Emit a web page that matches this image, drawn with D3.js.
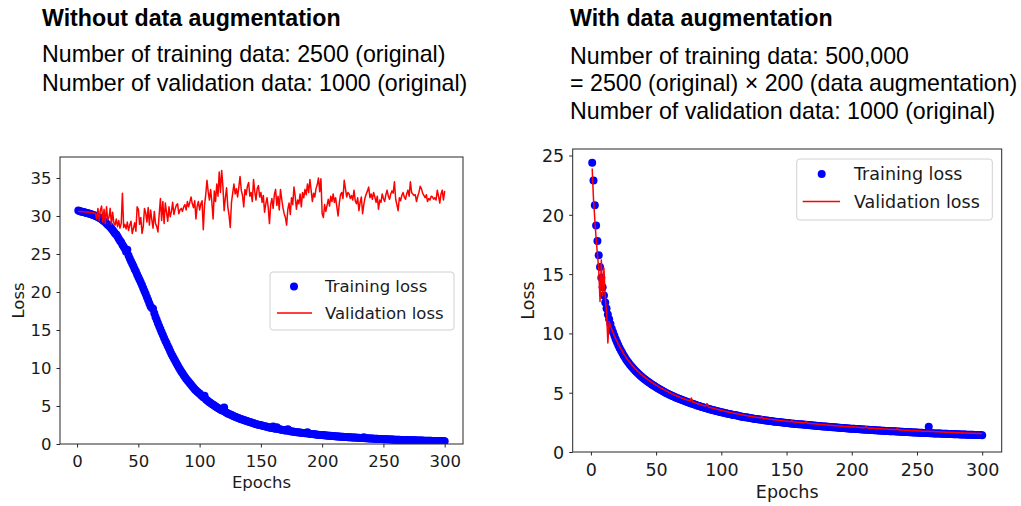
<!DOCTYPE html>
<html>
<head>
<meta charset="utf-8">
<script src="https://cdn.jsdelivr.net/npm/d3@7"></script>
<style>
  html, body { margin: 0; padding: 0; background: #fff; }
  svg { display: block; }
</style>
</head>
<body>
<svg id="chart" width="1021" height="506"></svg>
<script>
// Epoch index shared by both runs
const epochs = d3.range(1, 301);

// Run without data augmentation
const trainNoAug = [
  30.72, 30.65, 30.60, 30.56, 30.52, 30.48, 30.44, 30.40, 30.35, 30.30,
  30.25, 30.20, 30.14, 30.08, 30.00, 29.92, 29.85, 29.78, 29.70, 29.58,
  29.45, 29.30, 29.20, 29.00, 28.85, 28.70, 28.55, 28.35, 28.15, 27.92,
  27.70, 27.55, 27.30, 27.00, 26.75, 26.55, 26.20, 25.95, 25.70, 25.30,
  25.55, 24.80, 24.40, 24.05, 23.70, 23.40, 23.00, 22.70, 22.30, 21.95,
  21.60, 21.25, 20.90, 20.50, 20.10, 19.75, 19.30, 18.90, 18.50, 18.10,
  17.90, 17.80, 17.20, 16.70, 16.30, 15.90, 15.50, 15.10, 14.70, 14.35,
  13.95, 13.60, 13.25, 12.90, 12.55, 12.20, 11.85, 11.55, 11.25, 10.95,
  10.65, 10.35, 10.05, 9.80, 9.55, 9.30, 9.05, 8.80, 8.60, 8.40,
  8.20, 8.00, 7.80, 7.60, 7.40, 7.20, 7.05, 6.90, 6.75, 6.65,
  6.45, 6.30, 6.15, 6.35, 5.90, 5.75, 5.62, 5.50, 5.38, 5.26,
  5.15, 5.05, 4.95, 4.85, 4.75, 4.65, 4.55, 4.45, 4.38, 4.80,
  4.20, 4.10, 4.02, 3.95, 3.88, 3.80, 3.72, 3.65, 3.58, 3.52,
  3.45, 3.40, 3.33, 3.27, 3.21, 3.15, 3.10, 3.05, 2.98, 2.93,
  2.88, 2.83, 2.78, 2.73, 2.68, 2.63, 2.58, 2.54, 2.50, 2.46,
  2.42, 2.38, 2.34, 2.30, 2.26, 2.22, 2.18, 2.15, 2.12, 2.30,
  2.05, 2.02, 2.20, 1.96, 1.93, 1.90, 1.87, 1.84, 1.81, 1.78,
  1.76, 1.95, 1.71, 1.68, 1.66, 1.63, 1.61, 1.59, 1.56, 1.54,
  1.52, 1.50, 1.48, 1.46, 1.44, 1.42, 1.40, 1.55, 1.36, 1.34,
  1.32, 1.30, 1.28, 1.27, 1.25, 1.23, 1.22, 1.20, 1.18, 1.17,
  1.15, 1.14, 1.12, 1.11, 1.09, 1.08, 1.07, 1.05, 1.04, 1.03,
  1.01, 1.00, 0.99, 0.98, 0.96, 0.95, 0.94, 0.93, 0.92, 0.91,
  0.90, 0.89, 0.88, 0.87, 0.86, 0.85, 0.84, 0.83, 0.82, 0.81,
  0.80, 0.79, 0.78, 0.90, 0.77, 0.76, 0.75, 0.74, 0.73, 0.72,
  0.71, 0.70, 0.70, 0.69, 0.68, 0.67, 0.66, 0.66, 0.65, 0.64,
  0.63, 0.62, 0.62, 0.61, 0.60, 0.59, 0.59, 0.58, 0.57, 0.57,
  0.56, 0.55, 0.55, 0.54, 0.54, 0.53, 0.52, 0.52, 0.51, 0.51,
  0.50, 0.50, 0.49, 0.49, 0.48, 0.48, 0.47, 0.47, 0.46, 0.46,
  0.45, 0.45, 0.44, 0.44, 0.43, 0.43, 0.42, 0.42, 0.42, 0.41,
  0.41, 0.40, 0.40, 0.40, 0.39, 0.39, 0.38, 0.38, 0.38, 0.37
];
const valNoAug = [
  30.62, 30.60, 30.59, 30.58, 30.56, 30.55, 30.54, 30.52, 30.50, 30.49,
  30.47, 30.45, 30.44, 30.40, 30.30, 29.60, 31.00, 29.40, 30.80, 31.30,
  29.20, 30.90, 29.00, 31.20, 29.50, 29.80, 31.00, 28.90, 30.50, 29.10,
  28.80, 29.60, 28.60, 29.40, 28.40, 29.00, 33.00, 28.50, 28.90, 28.30,
  29.20, 28.10, 28.80, 29.30, 27.70, 28.40, 29.10, 28.00, 31.20, 30.90,
  28.90, 29.80, 27.70, 28.60, 31.00, 30.40, 29.20, 31.10, 28.80, 30.80,
  29.50, 28.40, 30.60, 29.00, 28.60, 27.90, 30.20, 32.30, 29.40, 31.90,
  29.00, 31.70, 30.50, 29.30, 31.20, 29.90, 30.60, 31.80, 30.20, 30.90,
  31.40, 31.60, 30.30, 30.80, 31.00, 30.60, 31.20, 31.50, 30.80, 31.90,
  31.20, 31.80, 32.50, 31.60, 31.10, 32.00, 29.60, 31.30, 31.90, 30.80,
  31.60, 32.00, 28.20, 31.40, 32.80, 34.70, 33.20, 32.10, 33.50, 31.80,
  29.60, 33.30, 31.90, 34.20, 32.60, 35.80, 33.10, 36.00, 33.90, 30.70,
  32.40, 33.70, 31.20, 30.10, 28.50, 31.80, 33.00, 34.20, 32.90, 33.60,
  32.50, 33.80, 35.20, 33.40, 32.70, 31.20, 33.50, 32.80, 33.90, 34.40,
  32.60, 33.10, 31.90, 34.80, 33.20, 32.10, 33.60, 34.00, 32.50, 33.10,
  31.80, 32.70, 30.50, 31.60, 32.40, 31.10, 29.00, 31.50, 32.30, 31.00,
  32.80, 33.50, 31.40, 32.60, 30.80, 33.50, 32.20, 31.10, 30.30, 29.80,
  28.80, 30.90, 31.70, 30.20, 32.40, 31.50, 33.80, 32.60, 30.90, 32.10,
  31.60, 32.90, 31.20, 33.10, 32.40, 33.50, 32.80, 34.20, 33.10, 34.80,
  33.40, 31.90, 33.00, 32.50, 33.60, 34.10, 35.00, 33.20, 34.90, 30.30,
  29.80, 31.50, 30.60, 31.40, 32.20, 31.30, 32.60, 31.90, 32.90, 31.80,
  32.40, 31.20, 30.00, 31.70, 32.80, 33.10, 32.30, 34.70, 33.60, 32.50,
  33.10, 32.90, 32.30, 32.70, 32.10, 33.40, 32.00, 31.60, 32.40, 30.70,
  31.80, 32.50, 30.30, 31.50, 32.40, 32.90, 33.30, 33.80, 32.40, 32.90,
  32.20, 33.10, 32.50, 31.80, 32.60, 30.90, 32.10, 31.80, 32.90, 32.30,
  31.90, 32.80, 33.40, 32.60, 32.20, 32.90, 33.30, 33.00, 34.50, 32.20,
  31.50, 30.70, 32.40, 32.00, 32.70, 33.10, 32.50, 32.20, 32.90, 33.40,
  32.60, 34.50, 33.10, 32.90, 32.70, 32.80, 31.90, 32.60, 33.10, 33.90,
  33.60, 33.00, 32.70, 32.40, 32.80, 31.90, 32.30, 32.10, 32.60, 32.50,
  32.20, 32.40, 32.10, 33.40, 32.60, 31.70, 32.90, 33.40, 32.10, 33.30
];

// Run with data augmentation
const trainAug = [
  24.40, 22.90, 20.80, 19.10, 17.80, 16.60, 15.60, 14.70, 13.90, 13.20,
  12.60, 12.10, 11.60, 11.20, 10.80, 10.40, 10.10, 9.80, 9.50, 9.25,
  9.00, 8.78, 8.56, 8.36, 8.16, 7.98, 7.81, 7.65, 7.50, 7.36,
  7.23, 7.10, 6.98, 6.86, 6.75, 6.64, 6.54, 6.44, 6.34, 6.25,
  6.16, 6.07, 5.99, 5.91, 5.83, 5.75, 5.68, 5.61, 5.54, 5.47,
  5.40, 5.33, 5.26, 5.20, 5.14, 5.08, 5.02, 4.96, 4.91, 4.85,
  4.80, 4.75, 4.70, 4.65, 4.60, 4.56, 4.51, 4.47, 4.43, 4.38,
  4.34, 4.30, 4.26, 4.22, 4.18, 4.14, 4.10, 4.06, 4.02, 3.98,
  3.94, 3.91, 3.87, 3.84, 3.80, 3.77, 3.74, 3.70, 3.67, 3.64,
  3.61, 3.58, 3.55, 3.52, 3.49, 3.46, 3.44, 3.41, 3.38, 3.35,
  3.33, 3.30, 3.28, 3.25, 3.23, 3.20, 3.18, 3.16, 3.13, 3.11,
  3.09, 3.07, 3.05, 3.02, 3.00, 2.98, 2.96, 2.94, 2.92, 2.90,
  2.88, 2.87, 2.85, 2.83, 2.81, 2.79, 2.78, 2.76, 2.74, 2.73,
  2.71, 2.70, 2.68, 2.66, 2.65, 2.63, 2.62, 2.61, 2.59, 2.58,
  2.56, 2.55, 2.54, 2.52, 2.51, 2.50, 2.48, 2.47, 2.46, 2.45,
  2.44, 2.42, 2.41, 2.40, 2.39, 2.38, 2.37, 2.36, 2.35, 2.34,
  2.33, 2.32, 2.31, 2.30, 2.29, 2.28, 2.27, 2.26, 2.25, 2.24,
  2.23, 2.22, 2.21, 2.20, 2.19, 2.18, 2.17, 2.16, 2.15, 2.14,
  2.13, 2.12, 2.11, 2.10, 2.09, 2.08, 2.08, 2.07, 2.06, 2.05,
  2.04, 2.03, 2.02, 2.02, 2.01, 2.00, 1.99, 1.98, 1.97, 1.96,
  1.96, 1.95, 1.94, 1.93, 1.93, 1.92, 1.91, 1.90, 1.90, 1.89,
  1.88, 1.88, 1.87, 1.86, 1.85, 1.85, 1.84, 1.83, 1.83, 1.82,
  1.81, 1.81, 1.80, 1.79, 1.79, 1.78, 1.77, 1.77, 1.76, 1.76,
  1.75, 1.74, 1.74, 1.73, 1.72, 1.72, 1.71, 1.71, 1.70, 1.69,
  1.69, 1.68, 1.68, 1.67, 1.67, 1.66, 1.65, 1.65, 1.64, 1.64,
  1.63, 1.63, 1.62, 1.62, 1.61, 1.61, 1.60, 1.60, 2.12, 1.59,
  1.58, 1.58, 1.57, 1.57, 1.56, 1.56, 1.55, 1.55, 1.54, 1.54,
  1.53, 1.53, 1.53, 1.52, 1.52, 1.51, 1.51, 1.50, 1.50, 1.50,
  1.49, 1.49, 1.48, 1.48, 1.48, 1.47, 1.47, 1.46, 1.46, 1.46,
  1.45, 1.45, 1.45, 1.44, 1.44, 1.44, 1.43, 1.43, 1.43, 1.42
];
const valAug = [
  23.90, 21.30, 19.60, 18.00, 16.70, 15.40, 12.70, 16.20, 13.20, 15.50,
  13.00, 11.80, 9.20, 11.00, 10.60, 10.35, 10.05, 9.80, 9.55, 9.35,
  9.10, 8.92, 8.70, 8.52, 8.30, 8.15, 7.98, 7.80, 7.68, 7.52,
  7.40, 7.25, 7.16, 7.00, 6.93, 6.78, 6.72, 6.58, 6.52, 6.40,
  6.35, 6.22, 6.18, 6.06, 6.02, 5.90, 5.87, 5.76, 5.73, 5.62,
  5.60, 5.49, 5.45, 5.36, 5.34, 5.24, 5.22, 5.12, 5.10, 5.01,
  4.99, 4.90, 4.90, 4.80, 4.79, 4.71, 4.70, 4.62, 4.60, 4.53,
  4.52, 4.44, 4.43, 4.37, 4.36, 4.29, 4.55, 4.22, 4.20, 4.14,
  4.12, 4.06, 4.05, 3.99, 3.98, 3.92, 3.91, 3.86, 4.08, 3.80,
  3.78, 3.73, 3.72, 3.67, 3.66, 3.61, 3.60, 3.56, 3.54, 3.50,
  3.49, 3.45, 3.44, 3.40, 3.39, 3.35, 3.34, 3.31, 3.29, 3.26,
  3.25, 3.22, 3.21, 3.17, 3.16, 3.13, 3.12, 3.09, 3.08, 3.05,
  3.04, 3.02, 3.01, 2.98, 2.97, 2.94, 2.93, 2.91, 2.90, 2.87,
  2.98, 2.85, 2.83, 2.81, 2.80, 2.78, 2.77, 2.75, 2.74, 2.72,
  2.71, 2.70, 2.69, 2.67, 2.66, 2.64, 2.64, 2.62, 2.61, 2.59,
  2.59, 2.57, 2.56, 2.66, 2.54, 2.53, 2.52, 2.50, 2.50, 2.48,
  2.48, 2.46, 2.46, 2.44, 2.56, 2.42, 2.42, 2.40, 2.40, 2.38,
  2.38, 2.36, 2.36, 2.34, 2.34, 2.32, 2.32, 2.30, 2.30, 2.28,
  2.28, 2.26, 2.27, 2.24, 2.25, 2.22, 2.23, 2.21, 2.21, 2.19,
  2.20, 2.17, 2.18, 2.16, 2.16, 2.14, 2.15, 2.13, 2.13, 2.11,
  2.12, 2.10, 2.10, 2.08, 2.09, 2.07, 2.07, 2.05, 2.06, 2.04,
  2.14, 2.03, 2.03, 2.01, 2.02, 2.00, 2.00, 1.98, 1.99, 1.97,
  1.97, 1.96, 1.96, 1.94, 1.95, 1.93, 1.93, 1.92, 1.92, 1.90,
  1.91, 1.89, 1.89, 1.88, 1.99, 1.86, 1.87, 1.85, 1.85, 1.84,
  1.84, 1.83, 1.83, 1.81, 1.82, 1.80, 1.81, 1.79, 1.80, 1.78,
  1.79, 1.77, 1.77, 1.76, 1.76, 1.75, 1.75, 1.74, 1.74, 1.73,
  1.73, 1.72, 1.72, 1.71, 1.71, 1.70, 1.70, 1.69, 1.69, 1.68,
  1.68, 1.67, 1.67, 1.66, 1.66, 1.65, 1.66, 1.64, 1.65, 1.63,
  1.64, 1.62, 1.63, 1.61, 1.62, 1.60, 1.61, 1.60, 1.60, 1.59,
  1.60, 1.58, 1.59, 1.58, 1.58, 1.57, 1.58, 1.56, 1.57, 1.56
];

// Axis ticks
const xTicks = [0, 50, 100, 150, 200, 250, 300];
const yTicksNoAug = [0, 5, 10, 15, 20, 25, 30, 35];
const yTicksAug = [0, 5, 10, 15, 20, 25];

// Header text for each panel
const headerNoAug = {
  title: "Without data augmentation",
  lines: ["Number of training data: 2500 (original)",
          "Number of validation data: 1000 (original)"]
};
const headerAug = {
  title: "With data augmentation",
  lines: ["Number of training data: 500,000",
          "= 2500 (original) \u00d7 200 (data augmentation)",
          "Number of validation data: 1000 (original)"]
};
const legendLabels = ["Training loss", "Validation loss"];

const svg = d3.select("#chart");
const TEXT = "#1a1a1a";
const SPINE = "#262626";

function drawHeader(h, x, titleY, lineYs) {
  const g = svg.append("g").attr("font-family", "'Liberation Sans', Arial, sans-serif").attr("fill", "#000");
  g.append("text").attr("x", x).attr("y", titleY)
    .attr("font-size", 23.2).attr("font-weight", "bold").text(h.title);
  h.lines.forEach((t, i) => {
    g.append("text").attr("x", x).attr("y", lineYs[i])
      .attr("font-size", 23.2).text(t);
  });
}

function drawPanel(cfg) {
  const { left, right, top, bottom, yMax, yTicks, train, val, fs, legend, ylabelX, xlabelY, xtickY, r } = cfg;
  const x = d3.scaleLinear().domain([-13.95, 314.95]).range([left, right]);
  const y = d3.scaleLinear().domain([0, yMax]).range([bottom, top]);
  const g = svg.append("g").attr("font-family", "'DejaVu Sans', sans-serif");

  // training loss: blue markers
  const clipId = "clip" + Math.round(left);
  svg.append("clipPath").attr("id", clipId).append("rect")
    .attr("x", left).attr("y", top).attr("width", right - left).attr("height", bottom - top);
  const plot = g.append("g").attr("clip-path", `url(#${clipId})`);
  plot.selectAll("circle.train").data(epochs).join("circle")
    .attr("class", "train")
    .attr("cx", (e) => x(e))
    .attr("cy", (e, i) => y(train[i]))
    .attr("r", r)
    .attr("fill", "#0000ff");

  // validation loss: red line
  const line = d3.line().x((e) => x(e)).y((e, i) => y(val[i]));
  plot.append("path").datum(epochs)
    .attr("d", line)
    .attr("fill", "none")
    .attr("stroke", "#ff0000")
    .attr("stroke-width", 1.5)
    .attr("stroke-linejoin", "round");

  // axes
  const xAxis = d3.axisBottom(x).tickValues(xTicks).tickSize(3.5).tickPadding(4);
  const yAxis = d3.axisLeft(y).tickValues(yTicks).tickSize(3.5).tickPadding(5);
  const gx = g.append("g").attr("transform", `translate(0,${bottom})`).call(xAxis);
  const gy = g.append("g").attr("transform", `translate(${left},0)`).call(yAxis);
  [gx, gy].forEach((a) => {
    a.select(".domain").remove();
    a.selectAll(".tick line").attr("stroke", SPINE).attr("stroke-width", 1);
    a.selectAll(".tick text").attr("fill", TEXT).attr("font-size", fs)
      .attr("font-family", "'DejaVu Sans', sans-serif");
  });
  gx.selectAll(".tick text").attr("dy", null).attr("y", xtickY - bottom);
  gy.selectAll(".tick text").attr("dy", "0.36em");

  // frame
  g.append("rect").attr("x", left).attr("y", top)
    .attr("width", right - left).attr("height", bottom - top)
    .attr("fill", "none").attr("stroke", SPINE).attr("stroke-width", 1);

  // axis titles
  g.append("text").attr("x", (left + right) / 2).attr("y", xlabelY)
    .attr("text-anchor", "middle").attr("font-size", fs).attr("fill", TEXT).text("Epochs");
  g.append("text")
    .attr("transform", `translate(${ylabelX},${(top + bottom) / 2}) rotate(-90)`)
    .attr("text-anchor", "middle").attr("dy", "0.36em")
    .attr("font-size", fs).attr("fill", TEXT).text("Loss");

  // legend
  const L = legend;
  const lg = g.append("g");
  lg.append("rect").attr("x", L.x0).attr("y", L.y0)
    .attr("width", L.x1 - L.x0).attr("height", L.y1 - L.y0)
    .attr("rx", 3).attr("fill", "#fff").attr("fill-opacity", 0.8)
    .attr("stroke", "#d0d0d0").attr("stroke-width", 1);
  lg.append("circle").attr("cx", L.dotX).attr("cy", L.row1).attr("r", r).attr("fill", "#0000ff");
  lg.append("line").attr("x1", L.lineX0).attr("x2", L.lineX1)
    .attr("y1", L.row2).attr("y2", L.row2)
    .attr("stroke", "#ff0000").attr("stroke-width", 1.5);
  [L.row1, L.row2].forEach((ry, i) => {
    lg.append("text").attr("x", L.textX).attr("y", ry).attr("dy", "0.36em")
      .attr("font-size", fs).attr("fill", TEXT).text(legendLabels[i]);
  });
}

drawHeader(headerNoAug, 42, 26, [62, 91]);
drawHeader(headerAug, 570, 26, [64, 91, 119]);

drawPanel({
  left: 60, right: 463, top: 157, bottom: 444, yMax: 37.76,
  yTicks: yTicksNoAug, train: trainNoAug, val: valNoAug, fs: 16.5, r: 4,
  ylabelX: 18, xlabelY: 488, xtickY: 467,
  legend: { x0: 270, x1: 454, y0: 272, y1: 330, dotX: 294, row1: 286.5,
            lineX0: 277, lineX1: 312, row2: 313, textX: 325 }
});

drawPanel({
  left: 572.7, right: 1001.7, top: 149, bottom: 452, yMax: 25.55,
  yTicks: yTicksAug, train: trainAug, val: valAug, fs: 17.5, r: 4,
  ylabelX: 528, xlabelY: 498, xtickY: 476,
  legend: { x0: 796.7, x1: 992.3, y0: 159, y1: 220, dotX: 821.7, row1: 174,
            lineX0: 802.7, lineX1: 840, row2: 201.5, textX: 854 }
});
</script>
</body>
</html>
